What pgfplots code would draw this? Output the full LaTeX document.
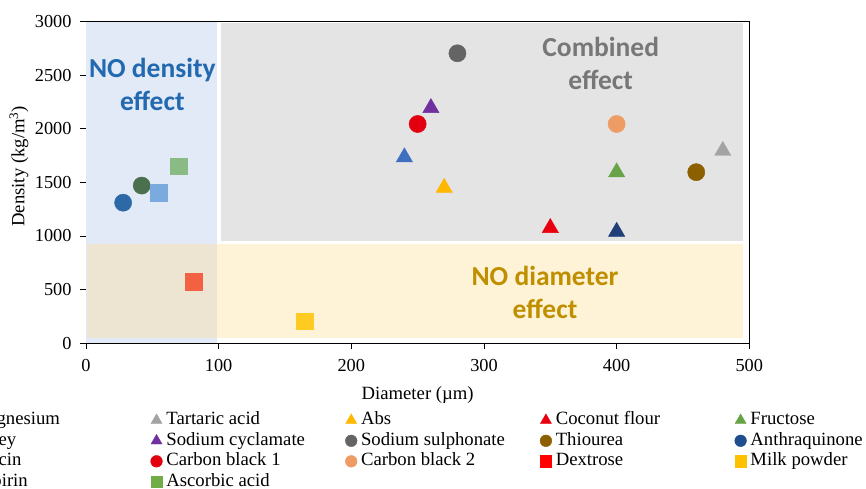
\documentclass[border=0pt]{standalone}
\usepackage{pgfplots}
\pgfplotsset{compat=1.18}
\usepackage{fontspec}
\setmainfont{Liberation Serif}
\newfontfamily\carlito{Carlito}

\definecolor{regBlue}{HTML}{E1EAF6}
\definecolor{regGray}{HTML}{E4E4E4}
\definecolor{regBeige}{HTML}{FFF3D7}
\definecolor{regMix}{HTML}{EEE4D2}
\definecolor{txtBlue}{HTML}{2269B0}
\definecolor{txtGray}{HTML}{777777}
\definecolor{txtGold}{HTML}{BF8F00}

\definecolor{cMag}{HTML}{3F70C0}
\definecolor{cTart}{HTML}{A3A3A3}
\definecolor{cAbs}{HTML}{FFB800}
\definecolor{cCoco}{HTML}{E8000E}
\definecolor{cFruc}{HTML}{68A447}
\definecolor{cWhey}{HTML}{203F78}
\definecolor{cCycl}{HTML}{7030A0}
\definecolor{cSulph}{HTML}{646464}
\definecolor{cThio}{HTML}{8C6000}
\definecolor{cAnthP}{HTML}{2D69A7}
\definecolor{cAnthL}{HTML}{1F4E8E}
\definecolor{cNiaP}{HTML}{4B704E}
\definecolor{cNiaL}{HTML}{385A30}
\definecolor{cCB1}{HTML}{E20010}
\definecolor{cCB2}{HTML}{EE9B64}
\definecolor{cDexP}{HTML}{F26242}
\definecolor{cDexL}{HTML}{FF0000}
\definecolor{cMilkP}{HTML}{FFCA22}
\definecolor{cMilkL}{HTML}{FFC000}
\definecolor{cAspP}{HTML}{7BAADF}
\definecolor{cAspL}{HTML}{5B9BD5}
\definecolor{cAscP}{HTML}{8BBB84}
\definecolor{cAscL}{HTML}{70AD47}

\newcommand{\lt}[1]{\makebox[179pt][l]{#1}}

\begin{document}
\begin{tikzpicture}
\clip[use as bounding box] (-86pt,-145pt) rectangle (780pt,343pt);
\begin{axis}[
  at={(0pt,0pt)}, anchor=south west,
  width=663.3pt, height=321.3pt, scale only axis,
  xmin=0, xmax=500, ymin=0, ymax=3000,
  xtick={0,100,...,500}, ytick={0,500,...,3000},
  xtick pos=bottom, ytick pos=left,
  tick align=outside, major tick length=6pt,
  tick style={black, line width=0.8pt},
  axis line style={line width=0.8pt, black},
  /pgf/number format/1000 sep={},
  /pgf/number format/assume math mode=true,
  tick label style={font=\fontsize{18.3}{22}\selectfont},
  xticklabel style={yshift=-7pt},
  yticklabel style={xshift=-5pt},
  xlabel={Diameter (µm)},
  ylabel={Density (kg/m\textsuperscript{3})},
  label style={font=\fontsize{18.7}{22}\selectfont},
  x label style={at={(axis description cs:0.5,-0.162)}, anchor=center},
  y label style={at={(axis description cs:-0.101,0.55)}, anchor=center},
  legend columns=5,
  legend cell align=left,
  legend image code/.code={\draw[mark repeat=2,mark phase=2,#1,every mark/.append style={scale=0.68}] plot coordinates {(0pt,0pt) (6pt,0pt) (12pt,0pt)};},
  legend style={at={(-0.196,-0.2126)}, anchor=north west, draw=none, fill=none,
    inner sep=0pt, outer sep=0pt, row sep=2.5pt,
    font=\fontsize{18.7}{20}\selectfont,
    nodes={inner sep=0pt, text height=13.5pt, text depth=4.5pt},
    /tikz/every odd column/.append style={column sep=4pt}},
]
% shaded regions
\addplot[draw=none, fill=regBlue, forget plot] coordinates {(0,0) (99,0) (99,3000) (0,3000)} -- cycle;
\addplot[draw=none, fill=regGray, forget plot] coordinates {(102,955) (495,955) (495,2990) (102,2990)} -- cycle;
\addplot[draw=none, fill=regBeige, forget plot] coordinates {(99,50) (495,50) (495,928) (99,928)} -- cycle;
\addplot[draw=none, fill=regMix, forget plot] coordinates {(1,50) (99,50) (99,928) (1,928)} -- cycle;

\node[font=\carlito\bfseries\fontsize{27.5}{33}\selectfont, align=center, text=txtBlue] at (axis cs:50,2413) {NO density\\effect};
\node[font=\carlito\bfseries\fontsize{27.5}{33}\selectfont, align=center, text=txtGray] at (axis cs:388,2607) {Combined\\effect};
\node[font=\carlito\bfseries\fontsize{27.5}{33}\selectfont, align=center, text=txtGold] at (axis cs:346,469) {NO diameter\\effect};

% row 1
\addplot[only marks, mark=triangle*, mark size=9.4pt, color=cMag] coordinates {(240,1735)};
\addlegendentry{\lt{Magnesium}}
\addplot[only marks, mark=triangle*, mark size=9.4pt, color=cTart] coordinates {(480,1795)};
\addlegendentry{\lt{Tartaric acid}}
\addplot[only marks, mark=triangle*, mark size=9.4pt, color=cAbs] coordinates {(270,1450)};
\addlegendentry{\lt{Abs}}
\addplot[only marks, mark=triangle*, mark size=9.4pt, color=cCoco] coordinates {(350,1075)};
\addlegendentry{\lt{Coconut flour}}
\addplot[only marks, mark=triangle*, mark size=9.4pt, color=cFruc] coordinates {(400,1595)};
\addlegendentry{\lt{Fructose}}
% row 2
\addplot[only marks, mark=triangle*, mark size=9.4pt, color=cWhey] coordinates {(400,1040)};
\addlegendentry{\lt{Whey}}
\addplot[only marks, mark=triangle*, mark size=9.4pt, color=cCycl] coordinates {(260,2195)};
\addlegendentry{\lt{Sodium cyclamate}}
\addplot[only marks, mark=*, mark size=8.6pt, color=cSulph] coordinates {(280,2705)};
\addlegendentry{\lt{Sodium sulphonate}}
\addplot[only marks, mark=*, mark size=8.6pt, color=cThio] coordinates {(460,1595)};
\addlegendentry{\lt{Thiourea}}
\addplot[only marks, mark=*, mark size=8.6pt, color=cAnthP, legend image post style={color=cAnthL}] coordinates {(28,1310)};
\addlegendentry{\lt{Anthraquinone}}
% row 3
\addplot[only marks, mark=*, mark size=8.6pt, color=cNiaP, legend image post style={color=cNiaL}] coordinates {(42,1470)};
\addlegendentry{\lt{Niacin}}
\addplot[only marks, mark=*, mark size=8.6pt, color=cCB1] coordinates {(250,2045)};
\addlegendentry{\lt{Carbon black 1}}
\addplot[only marks, mark=*, mark size=8.6pt, color=cCB2] coordinates {(400,2045)};
\addlegendentry{\lt{Carbon black 2}}
\addplot[only marks, mark=square*, mark size=8.3pt, color=cDexP, legend image post style={color=cDexL}] coordinates {(81,575)};
\addlegendentry{\lt{Dextrose}}
\addplot[only marks, mark=square*, mark size=8.3pt, color=cMilkP, legend image post style={color=cMilkL}] coordinates {(165,205)};
\addlegendentry{\lt{Milk powder}}
% row 4
\addplot[only marks, mark=square*, mark size=8.3pt, color=cAspP, legend image post style={color=cAspL}] coordinates {(55,1405)};
\addlegendentry{\lt{Aspirin}}
\addplot[only marks, mark=square*, mark size=8.3pt, color=cAscP, legend image post style={color=cAscL}] coordinates {(70,1650)};
\addlegendentry{\lt{Ascorbic acid}}
\end{axis}
\end{tikzpicture}
\end{document}
